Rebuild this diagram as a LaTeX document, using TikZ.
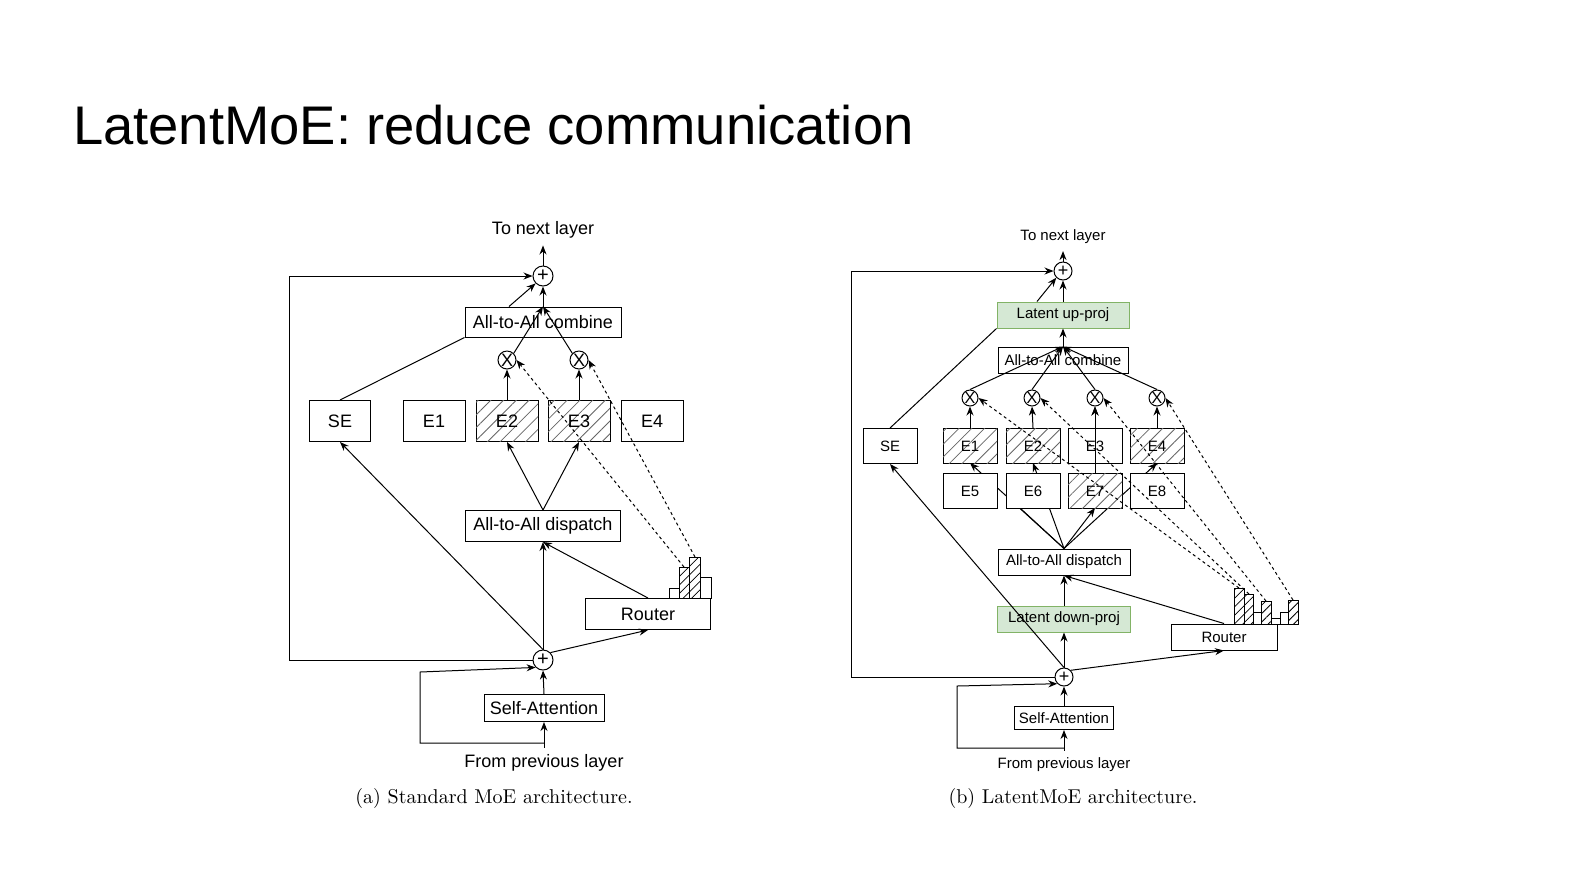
\documentclass[tikz,border=0pt]{standalone}
\usepackage{fontspec}
\setmainfont{Liberation Sans}
\newfontfamily\capfont{Latin Modern Roman}
\usetikzlibrary{arrows.meta,patterns.meta}
\definecolor{gfill}{HTML}{D5E8D4}
\definecolor{gdraw}{HTML}{82B366}
\begin{document}
\begin{tikzpicture}[x=0.5pt,y=-0.5pt,
  bx/.style={draw,fill=white,inner sep=0pt,line width=0.5pt},
  hat/.style={bx,postaction={pattern={Lines[angle=45,distance=4.5pt,line width=0.4pt]},pattern color=black!60}},
  grn/.style={bx,fill=gfill,draw=gdraw},
  ln/.style={line width=0.5pt},
  ar/.style={ln,-{Stealth[length=4.5pt,width=3.5pt]}},
  da/.style={ar,dash pattern=on 1.5pt off 1.5pt},
  pl/.style={draw,circle,fill=white,inner sep=0pt,minimum size=10pt,line width=0.5pt},
  xc/.style={draw,circle,fill=white,inner sep=0pt,minimum size=9pt,line width=0.5pt},
  fa/.style={font=\fontsize{9}{10}\selectfont},
  fb/.style={font=\fontsize{7.5}{9}\selectfont}]
\useasboundingbox (0,0) rectangle (1584,891);
\begin{pgfinterruptboundingbox}
\node[anchor=west,font=\fontsize{27.2}{30}\selectfont] (title) at (66,125) {LatentMoE: reduce communication};

% ===== (a) =====
\begin{scope}[every node/.append style={fa}]
\node (tn) at (543,230) {To next layer};
\node[pl] (p1) at (543,276) {};
\node[bx,minimum width=78pt,minimum height=15pt] (cmb) at (543,322) {All-to-All combine};
\node[xc] (x1) at (507,360) {};
\node[xc] (x2) at (579,360) {};
\node[bx,minimum width=30.5pt,minimum height=20.5pt] (se) at (340,421) {SE};
\node[bx,minimum width=31pt,minimum height=20.5pt] (e1) at (434,421) {E1};
\node[hat,minimum width=31pt,minimum height=20.5pt] (e2) at (507,421) {E2};
\node[hat,minimum width=31pt,minimum height=20.5pt] (e3) at (579,421) {E3};
\node[bx,minimum width=31pt,minimum height=20.5pt] (e4) at (652,421) {E4};
\node[bx,minimum width=77.5pt,minimum height=15.5pt] (dis) at (543,526) {All-to-All dispatch};
\node[bx,minimum width=62.5pt,minimum height=15.5pt] (rt) at (648,614) {Router};
\node[pl] (p2) at (543,660) {};
\node[bx,minimum width=60pt,minimum height=13.5pt] (sa) at (544,708) {Self-Attention};
\node (fp) at (544,763) {From previous layer};
\end{scope}
\node at (507,360) {\fontsize{9}{9}\selectfont X};
\node at (579,360) {\fontsize{9}{9}\selectfont X};
\node at (543,276) {\fontsize{10}{10}\selectfont +};
\node at (543,660) {\fontsize{10}{10}\selectfont +};
% histogram
\draw[ln] (669,598) rectangle (679,588);
\draw[ln,pattern={Lines[angle=45,distance=3pt,line width=0.4pt]}] (679,598) rectangle (689,567);
\draw[ln,pattern={Lines[angle=45,distance=3pt,line width=0.4pt]}] (689,598) rectangle (700,557);
\draw[ln] (700,598) rectangle (711,577);
\coordinate (h1) at (684,567);
\coordinate (h2) at (695,557);
% connectors
\draw[ar] (fp.north) -- (sa.south);
\draw[ar] (sa.north) -- (p2.south);
\draw[ar] (544,743) -- (420,743) -- (420,672) -- (p2.south west);
\draw[ar] (p2.west) -- (289,660) -- (289,276) -- (p1.west);
\draw[ar] (p2.north) -- (dis.south);
\draw[ar] (p2.north) -- (se.south);
\draw[ar] (p2.north east) -- (rt.south);
\draw[ar] (rt.north) -- (dis.south);
\draw[ar] (dis.north) -- (e2.south);
\draw[ar] (dis.north) -- (e3.south);
\draw[ar] (e2.north) -- (x1.south);
\draw[ar] (e3.north) -- (x2.south);
\draw[ar] (x1.north east) -- (cmb.north);
\draw[ar] (x2.north west) -- (cmb.north);
\draw[ar] (cmb.north) -- (p1.south);
\draw[ln] (se.north) -- (cmb.south west);
\draw[ar] ([xshift=-17pt]cmb.north) -- (p1.south west);
\draw[ar] (p1.north) -- (tn.south);
\draw[da] (h1) -- (x1.east);
\draw[da] (h2) -- (x2.east);

% ===== (b) =====
\begin{scope}[every node/.append style={fb}]
\node (tn2) at (1063,237) {To next layer};
\node[pl,minimum size=9pt] (q1) at (1063,271) {};
\node[grn,minimum width=66pt,minimum height=13pt] (up) at (1063,315) {Latent up-proj};
\node[bx,minimum width=65pt,minimum height=13pt] (cmb2) at (1063,360) {All-to-All combine};
\node[xc,minimum size=8pt] (y1) at (970,398) {};
\node[xc,minimum size=8pt] (y2) at (1032,398) {};
\node[xc,minimum size=8pt] (y3) at (1095,398) {};
\node[xc,minimum size=8pt] (y4) at (1157,398) {};
\node[bx,minimum width=27pt,minimum height=17.5pt] (se2) at (890,446) {SE};
\node[bx,minimum width=66pt,minimum height=13pt] (dis2) at (1064,562) {All-to-All dispatch};
\node[grn,minimum width=66.5pt,minimum height=13pt] (dn) at (1064,619) {Latent down-proj};
\node[bx,minimum width=53pt,minimum height=13pt] (rt2) at (1224,637) {Router};
\node[pl,minimum size=9pt] (q2) at (1064,677) {};
\node[bx,minimum width=49.5pt,minimum height=11.5pt] (sa2) at (1064,718) {Self-Attention};
\node (fp2) at (1064,765) {From previous layer};
\end{scope}
\foreach \n in {y1,y2,y3,y4} \node at (\n) {\fontsize{8}{8}\selectfont X};
\node at (1063,271) {\fontsize{9}{9}\selectfont +};
\node at (1064,677) {\fontsize{9}{9}\selectfont +};
\coordinate (g1) at (1239,588); \coordinate (g2) at (1249,594);
\coordinate (g4) at (1266,601); \coordinate (g7) at (1293,600);
% connectors behind expert boxes
\draw[ar] (dis2.north) -- (970,463);
\draw[ar] (dis2.north) -- (1033,463);
\draw[ar] (dis2.north) -- (1095,508);
\draw[ar] (dis2.north) -- (1157,463);
\draw[ln] (dis2.north) -- (1020,508);
\draw[ar] (1095,473) -- (y3.south);
\begin{scope}[every node/.append style={fb}]
\node[hat,minimum width=27pt,minimum height=17.5pt] (f1) at (970,446) {E1};
\node[hat,minimum width=27pt,minimum height=17.5pt] (f2) at (1033,446) {E2};
\node[bx,fill=none,minimum width=27pt,minimum height=17.5pt] (f3) at (1095,446) {E3};
\node[hat,minimum width=27pt,minimum height=17.5pt] (f4) at (1157,446) {E4};
\node[bx,minimum width=27pt,minimum height=17.5pt] (f5) at (970,491) {E5};
\node[bx,minimum width=27pt,minimum height=17.5pt] (f6) at (1033,491) {E6};
\node[hat,minimum width=27pt,minimum height=17.5pt] (f7) at (1095,491) {E7};
\node[bx,minimum width=27pt,minimum height=17.5pt] (f8) at (1157,491) {E8};
\end{scope}
\draw[ar] (f7.north) -- (y3.south);
% dashed
\draw[da] (g1) -- (y1.east);
\draw[da] (g2) -- (y2.east);
\draw[da] (g4) -- (y3.east);
\draw[da] (g7) -- (y4.east);
\foreach \a/\b/\t/\h in {1234/1244/588/1,1244/1253/594/1,1253/1261/612/0,1261/1271/601/1,1271/1280/618/0,1280/1288/612/0,1288/1298/600/1}{
  \ifnum\h=1 \draw[ln,pattern={Lines[angle=45,distance=3pt,line width=0.4pt]}] (\a,624) rectangle (\b,\t);
  \else \draw[ln] (\a,624) rectangle (\b,\t); \fi}
\draw[ar] (fp2.north) -- (sa2.south);
\draw[ar] (sa2.north) -- (q2.south);
\draw[ar] (1064,748) -- (957,748) -- (957,686) -- (q2.south west);
\draw[ar] (q2.west) -- (851,677) -- (851,271) -- (q1.west);
\draw[ar] (q2.north) -- (dn.south);
\draw[ar] (dn.north) -- (dis2.south);
\draw[ar] (rt2.north) -- (dis2.south);
\draw[ar] (q2.north) -- (se2.south);
\draw[ar] (q2.north east) -- (rt2.south);
\draw[ar] (f1.north) -- (y1.south);
\draw[ar] (f2.north) -- (y2.south);
\draw[ar] (f4.north) -- (y4.south);
\foreach \n in {y1,y2,y3,y4} \draw[ar] (\n.north) -- (cmb2.north);
\draw[ar] (cmb2.north) -- (up.south);
\draw[ar] (up.north) -- (q1.south);
\draw[ln] (se2.north) -- (up.south west);
\draw[ar] ([xshift=-13pt]up.north) -- (q1.south west);
\draw[ar] (q1.north) -- (tn2.south);

\node[font=\capfont\fontsize{10}{12}\selectfont] (ca) at (494,798) {(a) Standard MoE architecture.};
\node[font=\capfont\fontsize{10}{12}\selectfont] (cb) at (1073,798) {(b) LatentMoE architecture.};
\end{pgfinterruptboundingbox}
\end{tikzpicture}
\end{document}
